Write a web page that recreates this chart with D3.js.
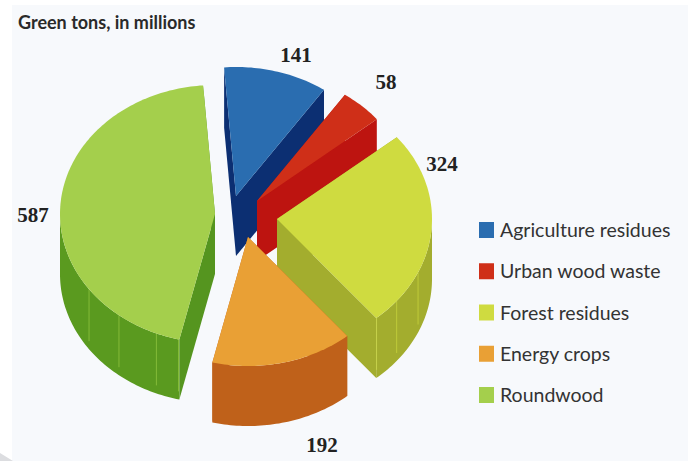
<!DOCTYPE html>
<html>
<head>
<meta charset="utf-8">
<style>
  html, body { margin: 0; padding: 0; background: #ffffff; }
  svg { display: block; }
</style>
<script src="https://cdn.jsdelivr.net/npm/d3@7/dist/d3.min.js"></script>
</head>
<body>
<svg id="chart" width="691" height="461"></svg>
<script>
// Biomass feedstock supply, green tons in millions
const categories = ["Agriculture residues", "Urban wood waste", "Forest residues", "Energy crops", "Roundwood"];
const values = [141, 58, 324, 192, 587];
const chartTitle = "Green tons, in millions";

// Palette per slice: top face, radial cut face, outer wall
const topColors = ["#2a6db0", "#cf2f18", "#cfdb40", "#e9a035", "#a4cf4c"];
const cutColors = ["#0c2f72", "#bd1410", "#a3ad2e", "#bf611a", "#55951f"];
const wallColors = ["#0c2f72", "#bd1410", "#a3ad2e", "#bf611a", "#5a9a1f"];

// Projection of the tilted pie
const rx = 155, ry = 129, depth = 60;
const firstAngle = -4.4 * Math.PI / 180;

// Each slice is pulled out of the pie to its own hub
const hubs = [[236, 196], [257, 201], [277, 219], [248, 237], [215, 214]];
const labelSpots = [[296, 62], [386, 89], [442, 171], [322, 452], [33, 222]];

// Wall panel seams, as fractions of each slice's sweep from its leading edge
const seams = [[], [], [0.713, 0.88, 0.998], [], [0.002, 0.055, 0.154, 0.253]];

const svg = d3.select("#chart");

// Paper panel behind the chart
svg.append("rect").attr("width", 691).attr("height", 461).attr("fill", "#ffffff");
svg.append("rect").attr("x", 12).attr("y", 5).attr("width", 676).attr("height", 456).attr("fill", "#f7f9fc");
svg.append("path").attr("d", d3.line()([[0, 453], [13, 461], [0, 461]])).attr("fill", "#dcdde0");

const pie = d3.pie().sort(null)
  .startAngle(firstAngle)
  .endAngle(firstAngle + 2 * Math.PI);
const arcs = pie(values);

// Angle is measured clockwise from the top of the ellipse
const rim = (hub, t, drop = 0) => [hub[0] + rx * Math.sin(t), hub[1] - ry * Math.cos(t) + drop];
const sweep = (hub, a, b, drop = 0) => {
  const n = Math.max(2, Math.ceil(Math.abs(b - a) / 0.02));
  return d3.range(n + 1).map(i => rim(hub, a + (b - a) * i / n, drop));
};
const poly = d3.line();

// Later slices sit in front of earlier ones
const paintOrder = [0, 1, 2, 4, 3];
const g = svg.append("g");

paintOrder.forEach(i => {
  const a = arcs[i], hub = hubs[i];
  const low = [hub[0], hub[1] + depth];
  const slice = g.append("g").attr("class", "slice");

  // Radial cut faces, both sides of the wedge
  [a.startAngle, a.endAngle].forEach(t => {
    const p = rim(hub, t);
    const q = rim(hub, t, depth);
    slice.append("path")
      .attr("d", poly([hub, p, q, low]) + "Z")
      .attr("fill", cutColors[i]);
  });

  // Outer wall: only the near half of the rim faces the viewer
  const from = Math.max(a.startAngle, Math.PI / 2);
  const to = Math.min(a.endAngle, 3 * Math.PI / 2);
  if (to > from) {
    const wall = sweep(hub, from, to).concat(sweep(hub, to, from, depth));
    slice.append("path").attr("d", poly(wall) + "Z").attr("fill", wallColors[i]);
    seams[i].forEach(f => {
      const t = a.startAngle + (a.endAngle - a.startAngle) * f;
      const top = rim(hub, t), bottom = rim(hub, t, depth);
      slice.append("line")
        .attr("x1", top[0]).attr("y1", top[1])
        .attr("x2", bottom[0]).attr("y2", bottom[1] - 8)
        .attr("stroke", d3.color(topColors[i]).brighter(0.2))
        .attr("stroke-width", 0.9)
        .attr("opacity", 0.55);
    });
  }

  // Top face
  const top = [hub].concat(sweep(hub, a.startAngle, a.endAngle));
  slice.append("path").attr("d", poly(top) + "Z").attr("fill", topColors[i]);
});

// Value labels
svg.append("g").selectAll("text").data(values).join("text")
  .attr("x", (d, i) => labelSpots[i][0])
  .attr("y", (d, i) => labelSpots[i][1])
  .attr("text-anchor", "middle")
  .attr("font-family", "'Liberation Serif', serif")
  .attr("font-weight", "bold")
  .attr("font-size", 21)
  .attr("fill", "#222222")
  .text(d => d);

// Heading
svg.append("text")
  .attr("x", 18).attr("y", 29)
  .attr("font-family", "Lato, sans-serif")
  .attr("font-weight", "bold")
  .attr("font-size", 18)
  .attr("fill", "#2a2a2a")
  .text(chartTitle);

// Legend
const legendY = d3.scalePoint().domain(categories).range([230, 395]);
const legend = svg.append("g").selectAll("g").data(categories).join("g")
  .attr("transform", d => `translate(479,${legendY(d)})`);
legend.append("rect")
  .attr("x", 0).attr("y", -8).attr("width", 15).attr("height", 16)
  .attr("fill", (d, i) => topColors[i]);
legend.append("text")
  .attr("x", 21).attr("y", 7)
  .attr("font-family", "Lato, sans-serif")
  .attr("font-size", 19.5)
  .attr("fill", "#333333")
  .text(d => d);
</script>
</body>
</html>
